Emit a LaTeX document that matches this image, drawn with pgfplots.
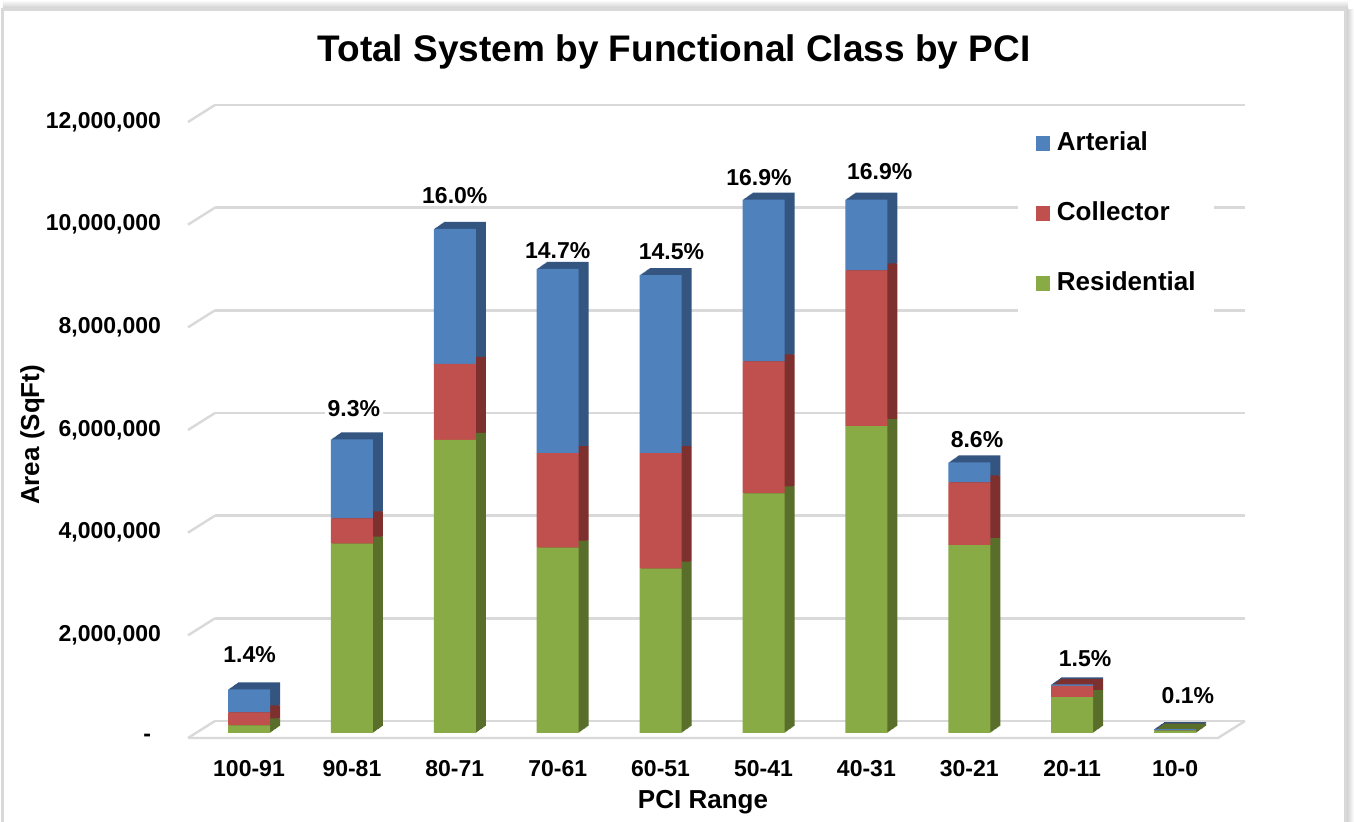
\documentclass[border=0pt]{standalone}
\usepackage{pgfplots}
\pgfplotsset{compat=1.18}
\usepackage{pgfplotstable}
\usepackage{fontspec}
\setmainfont{Liberation Sans}

\definecolor{artF}{RGB}{79,129,189}
\definecolor{colF}{RGB}{192,80,77}
\definecolor{resF}{RGB}{137,171,69}
\definecolor{artS}{RGB}{51,85,128}
\definecolor{colS}{RGB}{125,48,46}
\definecolor{resS}{RGB}{89,110,42}
\definecolor{gridc}{RGB}{217,217,217}

% area in sq ft, one row per PCI range
\pgfplotstableread{
x res col art
0 150000 250000 450000
1 3690000 490000 1540000
2 5710000 1480000 2630000
3 3610000 1840000 3590000
4 3200000 2250000 3470000
5 4670000 2570000 3150000
6 5980000 3030000 1380000
7 3660000 1220000 390000
8 700000 220000 25000
9 45000 5000 25000
}\datatable

\pgfplotsset{base/.style={anchor=south west, scale only axis, width=515pt, height=308pt,
  xmin=-0.593, xmax=9.417, ymin=0, ymax=12000000, scaled y ticks=false}}

\newcommand{\ticksize}{\fontsize{11.5}{13}\selectfont\bfseries}

\begin{document}
\begin{tikzpicture}[font=\bfseries]
\useasboundingbox (-94pt,-44.5pt) rectangle (583pt,366.5pt);
% chart frame and shadow
\shade[top color=white, bottom color=gray!45] (-92.5pt,361.5pt) rectangle (580pt,366.5pt);
\shade[left color=gray!45, right color=white] (578.5pt,-50pt) rectangle (583pt,361.5pt);
\draw[gray!30, line width=1.5pt, fill=white] (-92.5pt,-50pt) rectangle (578.5pt,361.5pt);

% back wall grid
\begin{axis}[base, at={(13.5pt,6pt)}, axis line style={draw=none}, tick style={draw=none},
  xtick=\empty, ytick={0,2000000,4000000,6000000,8000000,10000000,12000000},
  yticklabels={}, ymajorgrids, grid style={gridc, line width=1.2pt}]
\addplot[draw=none] coordinates {(0,0)};
\end{axis}
\foreach \k in {0,...,6}
  \draw[gridc, line width=1.2pt] (0pt,-2.5pt+\k*51.333pt) -- ++(13.5pt,8.5pt);
\draw[gridc, line width=1.2pt] (0pt,-2.5pt) -- (515pt,-2.5pt) -- (528.5pt,6pt);

% bar depth
\foreach \s in {1,...,10}{
\begin{axis}[base, at={(\s*0.5pt,\s*0.35pt)}, hide axis, ybar stacked, bar width=21pt]
\addplot[fill=resS, draw=none] table[x=x, y=res] {\datatable};
\addplot[fill=colS, draw=none] table[x=x, y=col] {\datatable};
\addplot[fill=artS, draw=none] table[x=x, y=art] {\datatable};
\end{axis}}

% front faces
\begin{axis}[base, at={(0pt,0pt)}, ybar stacked, bar width=21pt,
  axis line style={draw=none}, tick style={draw=none}, major tick length=0pt,
  xtick={0,...,9},
  xticklabels={100-91,90-81,80-71,70-61,60-51,50-41,40-31,30-21,20-11,10-0},
  ytick={0,2000000,4000000,6000000,8000000,10000000,12000000},
  yticklabels={{-\hspace*{5pt}},{2,000,000},{4,000,000},{6,000,000},{8,000,000},{10,000,000},{12,000,000}},
  tick label style={font=\ticksize},
  xticklabel style={yshift=-10pt},
  yticklabel style={xshift=-10pt, yshift=-2.5pt},
  xlabel={PCI Range}, ylabel={Area (SqFt)},
  label style={font=\fontsize{13}{15}\selectfont\bfseries},
  xlabel style={at={(axis description cs:0.5,-0.112)}, anchor=center},
  ylabel style={at={(axis description cs:-0.151,0.484)}, anchor=center},
  reverse legend,
  legend style={at={(0.805,1.013)}, anchor=north west, draw=none, fill=white,
    font=\fontsize{13}{15}\selectfont\bfseries, inner xsep=9pt, inner ysep=11pt,
    row sep=23pt, nodes={inner sep=0pt, text height=9.5pt, text depth=2.5pt},
    /tikz/every odd column/.append style={column sep=3.5pt}},
  legend cell align=left,
  legend image code/.code={\draw[#1, draw=none] (0pt,-3.6pt) rectangle (7.2pt,3.6pt);},
]
\addplot[fill=resF, draw=none] table[x=x, y=res] {\datatable};
\addplot[fill=colF, draw=none] table[x=x, y=col] {\datatable};
\addplot[fill=artF, draw=none] table[x=x, y=art] {\datatable};
\legend{Residential, Collector, Arterial}
\end{axis}

% share labels
\begin{axis}[base, at={(0pt,0pt)}, hide axis, clip=false]
\addplot[draw=none, mark=none, nodes near coords, point meta=explicit symbolic,
  nodes near coords style={anchor=center, fill=white, inner sep=1.5pt, font=\ticksize}]
  coordinates {
  (0.005,1529000)[1.4\%]
  (1.019,6315000)[9.3\%]
  (2.0,10477000)[16.0\%]
  (3.0,9406000)[14.7\%]
  (4.106,9377000)[14.5\%]
  (4.956,10828000)[16.9\%]
  (6.13,10935000)[16.9\%]
  (7.075,5706000)[8.6\%]
  (8.125,1441000)[1.5\%]
  (9.125,720000)[0.1\%]
  };
\end{axis}

\node[font=\fontsize{18.5}{22}\selectfont\bfseries] at (243pt,340.5pt) {Total System by Functional Class by PCI};
\end{tikzpicture}
\end{document}
